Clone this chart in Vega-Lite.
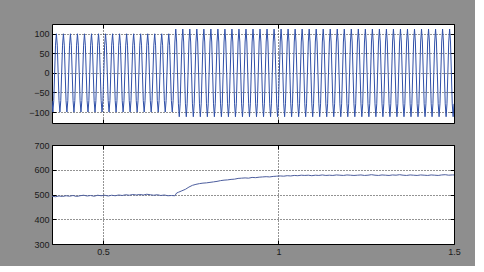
{
"$schema": "https://vega.github.io/schema/vega-lite/v6.json",
"background": "#8e8e8e",
"padding": {"left": 28, "top": 23, "right": 14, "bottom": 9},
"spacing": 22,
"bounds": "flush",
"datasets": {
"sig": [
{"t":0.355,"v":-71},{"t":0.3575,"v":-100},{"t":0.36,"v":-71},{"t":0.3625,"v":0},{"t":0.365,"v":71},{"t":0.3675,"v":100},{"t":0.37,"v":71},{"t":0.3725,"v":0},
{"t":0.375,"v":-71},{"t":0.3775,"v":-100},{"t":0.38,"v":-71},{"t":0.3825,"v":0},{"t":0.385,"v":71},{"t":0.3875,"v":100},{"t":0.39,"v":71},{"t":0.3925,"v":0},
{"t":0.395,"v":-71},{"t":0.3975,"v":-100},{"t":0.4,"v":-71},{"t":0.4025,"v":0},{"t":0.405,"v":71},{"t":0.4075,"v":100},{"t":0.41,"v":71},{"t":0.4125,"v":0},
{"t":0.415,"v":-71},{"t":0.4175,"v":-100},{"t":0.42,"v":-71},{"t":0.4225,"v":0},{"t":0.425,"v":71},{"t":0.4275,"v":100},{"t":0.43,"v":71},{"t":0.4325,"v":0},
{"t":0.435,"v":-71},{"t":0.4375,"v":-100},{"t":0.44,"v":-71},{"t":0.4425,"v":0},{"t":0.445,"v":71},{"t":0.4475,"v":100},{"t":0.45,"v":71},{"t":0.4525,"v":0},
{"t":0.455,"v":-71},{"t":0.4575,"v":-100},{"t":0.46,"v":-71},{"t":0.4625,"v":0},{"t":0.465,"v":71},{"t":0.4675,"v":100},{"t":0.47,"v":71},{"t":0.4725,"v":0},
{"t":0.475,"v":-71},{"t":0.4775,"v":-100},{"t":0.48,"v":-71},{"t":0.4825,"v":0},{"t":0.485,"v":71},{"t":0.4875,"v":100},{"t":0.49,"v":71},{"t":0.4925,"v":0},
{"t":0.495,"v":-71},{"t":0.4975,"v":-100},{"t":0.5,"v":-71},{"t":0.5025,"v":0},{"t":0.505,"v":71},{"t":0.5075,"v":100},{"t":0.51,"v":71},{"t":0.5125,"v":0},
{"t":0.515,"v":-71},{"t":0.5175,"v":-100},{"t":0.52,"v":-71},{"t":0.5225,"v":0},{"t":0.525,"v":71},{"t":0.5275,"v":100},{"t":0.53,"v":71},{"t":0.5325,"v":0},
{"t":0.535,"v":-71},{"t":0.5375,"v":-100},{"t":0.54,"v":-71},{"t":0.5425,"v":0},{"t":0.545,"v":71},{"t":0.5475,"v":100},{"t":0.55,"v":71},{"t":0.5525,"v":0},
{"t":0.555,"v":-71},{"t":0.5575,"v":-100},{"t":0.56,"v":-71},{"t":0.5625,"v":0},{"t":0.565,"v":71},{"t":0.5675,"v":100},{"t":0.57,"v":71},{"t":0.5725,"v":0},
{"t":0.575,"v":-71},{"t":0.5775,"v":-100},{"t":0.58,"v":-71},{"t":0.5825,"v":0},{"t":0.585,"v":71},{"t":0.5875,"v":100},{"t":0.59,"v":71},{"t":0.5925,"v":0},
{"t":0.595,"v":-71},{"t":0.5975,"v":-100},{"t":0.6,"v":-71},{"t":0.6025,"v":0},{"t":0.605,"v":71},{"t":0.6075,"v":100},{"t":0.61,"v":71},{"t":0.6125,"v":0},
{"t":0.615,"v":-71},{"t":0.6175,"v":-100},{"t":0.62,"v":-71},{"t":0.6225,"v":0},{"t":0.625,"v":71},{"t":0.6275,"v":100},{"t":0.63,"v":71},{"t":0.6325,"v":0},
{"t":0.635,"v":-71},{"t":0.6375,"v":-100},{"t":0.64,"v":-71},{"t":0.6425,"v":0},{"t":0.645,"v":71},{"t":0.6475,"v":100},{"t":0.65,"v":71},{"t":0.6525,"v":0},
{"t":0.655,"v":-71},{"t":0.6575,"v":-100},{"t":0.66,"v":-71},{"t":0.6625,"v":0},{"t":0.665,"v":71},{"t":0.6675,"v":100},{"t":0.67,"v":71},{"t":0.6725,"v":0},
{"t":0.675,"v":-71},{"t":0.6775,"v":-100},{"t":0.68,"v":-71},{"t":0.6825,"v":0},{"t":0.685,"v":71},{"t":0.6875,"v":100},{"t":0.69,"v":71},{"t":0.6925,"v":0},
{"t":0.695,"v":-71},{"t":0.6975,"v":-100},{"t":0.7,"v":-71},{"t":0.7025,"v":0},{"t":0.705,"v":79},{"t":0.7075,"v":112},{"t":0.71,"v":79},{"t":0.7125,"v":0},
{"t":0.715,"v":-79},{"t":0.7175,"v":-112},{"t":0.72,"v":-79},{"t":0.7225,"v":0},{"t":0.725,"v":79},{"t":0.7275,"v":112},{"t":0.73,"v":79},{"t":0.7325,"v":0},
{"t":0.735,"v":-79},{"t":0.7375,"v":-112},{"t":0.74,"v":-79},{"t":0.7425,"v":0},{"t":0.745,"v":79},{"t":0.7475,"v":112},{"t":0.75,"v":79},{"t":0.7525,"v":0},
{"t":0.755,"v":-79},{"t":0.7575,"v":-112},{"t":0.76,"v":-79},{"t":0.7625,"v":0},{"t":0.765,"v":79},{"t":0.7675,"v":112},{"t":0.77,"v":79},{"t":0.7725,"v":0},
{"t":0.775,"v":-79},{"t":0.7775,"v":-112},{"t":0.78,"v":-79},{"t":0.7825,"v":0},{"t":0.785,"v":79},{"t":0.7875,"v":112},{"t":0.79,"v":79},{"t":0.7925,"v":0},
{"t":0.795,"v":-79},{"t":0.7975,"v":-112},{"t":0.8,"v":-79},{"t":0.8025,"v":0},{"t":0.805,"v":79},{"t":0.8075,"v":112},{"t":0.81,"v":79},{"t":0.8125,"v":0},
{"t":0.815,"v":-79},{"t":0.8175,"v":-112},{"t":0.82,"v":-79},{"t":0.8225,"v":0},{"t":0.825,"v":79},{"t":0.8275,"v":112},{"t":0.83,"v":79},{"t":0.8325,"v":0},
{"t":0.835,"v":-79},{"t":0.8375,"v":-112},{"t":0.84,"v":-79},{"t":0.8425,"v":0},{"t":0.845,"v":79},{"t":0.8475,"v":112},{"t":0.85,"v":79},{"t":0.8525,"v":0},
{"t":0.855,"v":-79},{"t":0.8575,"v":-112},{"t":0.86,"v":-79},{"t":0.8625,"v":0},{"t":0.865,"v":79},{"t":0.8675,"v":112},{"t":0.87,"v":79},{"t":0.8725,"v":0},
{"t":0.875,"v":-79},{"t":0.8775,"v":-112},{"t":0.88,"v":-79},{"t":0.8825,"v":0},{"t":0.885,"v":79},{"t":0.8875,"v":112},{"t":0.89,"v":79},{"t":0.8925,"v":0},
{"t":0.895,"v":-79},{"t":0.8975,"v":-112},{"t":0.9,"v":-79},{"t":0.9025,"v":0},{"t":0.905,"v":79},{"t":0.9075,"v":112},{"t":0.91,"v":79},{"t":0.9125,"v":0},
{"t":0.915,"v":-79},{"t":0.9175,"v":-112},{"t":0.92,"v":-79},{"t":0.9225,"v":0},{"t":0.925,"v":79},{"t":0.9275,"v":112},{"t":0.93,"v":79},{"t":0.9325,"v":0},
{"t":0.935,"v":-79},{"t":0.9375,"v":-112},{"t":0.94,"v":-79},{"t":0.9425,"v":0},{"t":0.945,"v":79},{"t":0.9475,"v":112},{"t":0.95,"v":79},{"t":0.9525,"v":0},
{"t":0.955,"v":-79},{"t":0.9575,"v":-112},{"t":0.96,"v":-79},{"t":0.9625,"v":0},{"t":0.965,"v":79},{"t":0.9675,"v":112},{"t":0.97,"v":79},{"t":0.9725,"v":0},
{"t":0.975,"v":-79},{"t":0.9775,"v":-112},{"t":0.98,"v":-79},{"t":0.9825,"v":0},{"t":0.985,"v":79},{"t":0.9875,"v":112},{"t":0.99,"v":79},{"t":0.9925,"v":0},
{"t":0.995,"v":-79},{"t":0.9975,"v":-112},{"t":1.0,"v":-79},{"t":1.0025,"v":0},{"t":1.005,"v":79},{"t":1.0075,"v":112},{"t":1.01,"v":79},{"t":1.0125,"v":0},
{"t":1.015,"v":-79},{"t":1.0175,"v":-112},{"t":1.02,"v":-79},{"t":1.0225,"v":0},{"t":1.025,"v":79},{"t":1.0275,"v":112},{"t":1.03,"v":79},{"t":1.0325,"v":0},
{"t":1.035,"v":-79},{"t":1.0375,"v":-112},{"t":1.04,"v":-79},{"t":1.0425,"v":0},{"t":1.045,"v":79},{"t":1.0475,"v":112},{"t":1.05,"v":79},{"t":1.0525,"v":0},
{"t":1.055,"v":-79},{"t":1.0575,"v":-112},{"t":1.06,"v":-79},{"t":1.0625,"v":0},{"t":1.065,"v":79},{"t":1.0675,"v":112},{"t":1.07,"v":79},{"t":1.0725,"v":0},
{"t":1.075,"v":-79},{"t":1.0775,"v":-112},{"t":1.08,"v":-79},{"t":1.0825,"v":0},{"t":1.085,"v":79},{"t":1.0875,"v":112},{"t":1.09,"v":79},{"t":1.0925,"v":0},
{"t":1.095,"v":-79},{"t":1.0975,"v":-112},{"t":1.1,"v":-79},{"t":1.1025,"v":0},{"t":1.105,"v":79},{"t":1.1075,"v":112},{"t":1.11,"v":79},{"t":1.1125,"v":0},
{"t":1.115,"v":-79},{"t":1.1175,"v":-112},{"t":1.12,"v":-79},{"t":1.1225,"v":0},{"t":1.125,"v":79},{"t":1.1275,"v":112},{"t":1.13,"v":79},{"t":1.1325,"v":0},
{"t":1.135,"v":-79},{"t":1.1375,"v":-112},{"t":1.14,"v":-79},{"t":1.1425,"v":0},{"t":1.145,"v":79},{"t":1.1475,"v":112},{"t":1.15,"v":79},{"t":1.1525,"v":0},
{"t":1.155,"v":-79},{"t":1.1575,"v":-112},{"t":1.16,"v":-79},{"t":1.1625,"v":0},{"t":1.165,"v":79},{"t":1.1675,"v":112},{"t":1.17,"v":79},{"t":1.1725,"v":0},
{"t":1.175,"v":-79},{"t":1.1775,"v":-112},{"t":1.18,"v":-79},{"t":1.1825,"v":0},{"t":1.185,"v":79},{"t":1.1875,"v":112},{"t":1.19,"v":79},{"t":1.1925,"v":0},
{"t":1.195,"v":-79},{"t":1.1975,"v":-112},{"t":1.2,"v":-79},{"t":1.2025,"v":0},{"t":1.205,"v":79},{"t":1.2075,"v":112},{"t":1.21,"v":79},{"t":1.2125,"v":0},
{"t":1.215,"v":-79},{"t":1.2175,"v":-112},{"t":1.22,"v":-79},{"t":1.2225,"v":0},{"t":1.225,"v":79},{"t":1.2275,"v":112},{"t":1.23,"v":79},{"t":1.2325,"v":0},
{"t":1.235,"v":-79},{"t":1.2375,"v":-112},{"t":1.24,"v":-79},{"t":1.2425,"v":0},{"t":1.245,"v":79},{"t":1.2475,"v":112},{"t":1.25,"v":79},{"t":1.2525,"v":0},
{"t":1.255,"v":-79},{"t":1.2575,"v":-112},{"t":1.26,"v":-79},{"t":1.2625,"v":0},{"t":1.265,"v":79},{"t":1.2675,"v":112},{"t":1.27,"v":79},{"t":1.2725,"v":0},
{"t":1.275,"v":-79},{"t":1.2775,"v":-112},{"t":1.28,"v":-79},{"t":1.2825,"v":0},{"t":1.285,"v":79},{"t":1.2875,"v":112},{"t":1.29,"v":79},{"t":1.2925,"v":0},
{"t":1.295,"v":-79},{"t":1.2975,"v":-112},{"t":1.3,"v":-79},{"t":1.3025,"v":0},{"t":1.305,"v":79},{"t":1.3075,"v":112},{"t":1.31,"v":79},{"t":1.3125,"v":0},
{"t":1.315,"v":-79},{"t":1.3175,"v":-112},{"t":1.32,"v":-79},{"t":1.3225,"v":0},{"t":1.325,"v":79},{"t":1.3275,"v":112},{"t":1.33,"v":79},{"t":1.3325,"v":0},
{"t":1.335,"v":-79},{"t":1.3375,"v":-112},{"t":1.34,"v":-79},{"t":1.3425,"v":0},{"t":1.345,"v":79},{"t":1.3475,"v":112},{"t":1.35,"v":79},{"t":1.3525,"v":0},
{"t":1.355,"v":-79},{"t":1.3575,"v":-112},{"t":1.36,"v":-79},{"t":1.3625,"v":0},{"t":1.365,"v":79},{"t":1.3675,"v":112},{"t":1.37,"v":79},{"t":1.3725,"v":0},
{"t":1.375,"v":-79},{"t":1.3775,"v":-112},{"t":1.38,"v":-79},{"t":1.3825,"v":0},{"t":1.385,"v":79},{"t":1.3875,"v":112},{"t":1.39,"v":79},{"t":1.3925,"v":0},
{"t":1.395,"v":-79},{"t":1.3975,"v":-112},{"t":1.4,"v":-79},{"t":1.4025,"v":0},{"t":1.405,"v":79},{"t":1.4075,"v":112},{"t":1.41,"v":79},{"t":1.4125,"v":0},
{"t":1.415,"v":-79},{"t":1.4175,"v":-112},{"t":1.42,"v":-79},{"t":1.4225,"v":0},{"t":1.425,"v":79},{"t":1.4275,"v":112},{"t":1.43,"v":79},{"t":1.4325,"v":0},
{"t":1.435,"v":-79},{"t":1.4375,"v":-112},{"t":1.44,"v":-79},{"t":1.4425,"v":0},{"t":1.445,"v":79},{"t":1.4475,"v":112},{"t":1.45,"v":79},{"t":1.4525,"v":0},
{"t":1.455,"v":-79},{"t":1.4575,"v":-112},{"t":1.46,"v":-79},{"t":1.4625,"v":0},{"t":1.465,"v":79},{"t":1.4675,"v":112},{"t":1.47,"v":79},{"t":1.4725,"v":0},
{"t":1.475,"v":-79},{"t":1.4775,"v":-112},{"t":1.48,"v":-79},{"t":1.4825,"v":0},{"t":1.485,"v":79},{"t":1.4875,"v":112},{"t":1.49,"v":79},{"t":1.4925,"v":0},
{"t":1.495,"v":-79},{"t":1.4975,"v":-112},{"t":1.5,"v":-79}
],
"spd": [
{"t":0.355,"v":493},{"t":0.365,"v":491},{"t":0.375,"v":494},{"t":0.385,"v":492},{"t":0.395,"v":495},{"t":0.405,"v":493},{"t":0.415,"v":496},{"t":0.425,"v":492},{"t":0.435,"v":495},{"t":0.445,"v":497},
{"t":0.455,"v":494},{"t":0.465,"v":496},{"t":0.475,"v":493},{"t":0.485,"v":497},{"t":0.495,"v":495},{"t":0.505,"v":497},{"t":0.515,"v":494},{"t":0.525,"v":497},{"t":0.535,"v":495},{"t":0.545,"v":498},
{"t":0.555,"v":496},{"t":0.565,"v":499},{"t":0.575,"v":497},{"t":0.585,"v":500},{"t":0.595,"v":498},{"t":0.605,"v":500},{"t":0.615,"v":498},{"t":0.625,"v":501},{"t":0.635,"v":499},{"t":0.645,"v":497},
{"t":0.655,"v":499},{"t":0.665,"v":496},{"t":0.675,"v":498},{"t":0.685,"v":495},{"t":0.695,"v":496},{"t":0.705,"v":495},{"t":0.71,"v":506},{"t":0.715,"v":509},{"t":0.725,"v":515},{"t":0.735,"v":521},
{"t":0.745,"v":530},{"t":0.755,"v":537},{"t":0.765,"v":541},{"t":0.775,"v":544},{"t":0.785,"v":546},{"t":0.795,"v":547},{"t":0.805,"v":549},{"t":0.815,"v":551},{"t":0.825,"v":553},{"t":0.835,"v":556},
{"t":0.845,"v":558},{"t":0.855,"v":559},{"t":0.865,"v":561},{"t":0.875,"v":562},{"t":0.885,"v":565},{"t":0.895,"v":566},{"t":0.905,"v":567},{"t":0.915,"v":566},{"t":0.925,"v":569},{"t":0.935,"v":568},
{"t":0.945,"v":570},{"t":0.955,"v":571},{"t":0.965,"v":572},{"t":0.975,"v":571},{"t":0.985,"v":573},{"t":0.995,"v":574},{"t":1.005,"v":575},{"t":1.015,"v":574},{"t":1.025,"v":576},{"t":1.035,"v":575},
{"t":1.045,"v":577},{"t":1.055,"v":576},{"t":1.065,"v":578},{"t":1.075,"v":577},{"t":1.085,"v":578},{"t":1.095,"v":576},{"t":1.105,"v":578},{"t":1.115,"v":577},{"t":1.125,"v":579},{"t":1.135,"v":577},
{"t":1.145,"v":578},{"t":1.155,"v":577},{"t":1.165,"v":579},{"t":1.175,"v":578},{"t":1.185,"v":577},{"t":1.195,"v":579},{"t":1.205,"v":578},{"t":1.215,"v":577},{"t":1.225,"v":578},{"t":1.235,"v":579},
{"t":1.245,"v":577},{"t":1.255,"v":578},{"t":1.265,"v":580},{"t":1.275,"v":578},{"t":1.285,"v":577},{"t":1.295,"v":579},{"t":1.305,"v":578},{"t":1.315,"v":577},{"t":1.325,"v":579},{"t":1.335,"v":578},
{"t":1.345,"v":580},{"t":1.355,"v":578},{"t":1.365,"v":577},{"t":1.375,"v":579},{"t":1.385,"v":578},{"t":1.395,"v":577},{"t":1.405,"v":579},{"t":1.415,"v":578},{"t":1.425,"v":577},{"t":1.435,"v":579},
{"t":1.445,"v":578},{"t":1.455,"v":577},{"t":1.465,"v":579},{"t":1.475,"v":580},{"t":1.485,"v":578},{"t":1.495,"v":579},{"t":1.5,"v":579}
]
},
"config": {
"view": {"fill": "white", "stroke": "black", "strokeWidth": 1},
"axis": {"domain": false, "grid": true, "gridColor": "black", "gridDash": [1, 2], "gridOpacity": 0.85, "gridWidth": 1, "tickColor": "black", "tickSize": -4, "labelPadding": 7, "labelFont": "Liberation Sans", "labelFontSize": 9, "labelColor": "#1a1a1a", "labelFlush": false, "labelOverlap": false, "title": null}
},
"vconcat": [
{
"width": 402, "height": 99,
"data": {"name": "sig"},
"layer": [
{"mark": {"type": "line", "color": "#3050a8", "strokeWidth": 1, "clip": true},
"encoding": {
"x": {"field": "t", "type": "quantitative", "scale": {"domain": [0.355, 1.5], "nice": false, "zero": false}, "axis": {"values": [0.5, 1, 1.5], "labels": false}},
"y": {"field": "v", "type": "quantitative", "scale": {"domain": [-128, 125], "nice": false, "zero": false}, "axis": {"values": [-100, -50, 0, 50, 100]}}
}},
{"mark": {"type": "line", "opacity": 0},
"encoding": {
"x": {"field": "t", "type": "quantitative", "axis": {"orient": "top", "values": [0.5, 1, 1.5], "labels": false, "grid": false}},
"y": {"field": "v", "type": "quantitative", "axis": {"orient": "right", "values": [-100, -50, 0, 50, 100], "labels": false, "grid": false}}
}}
],
"resolve": {"axis": {"x": "independent", "y": "independent"}}
},
{
"width": 402, "height": 99,
"data": {"name": "spd"},
"layer": [
{"mark": {"type": "line", "color": "#4d5e9e", "strokeWidth": 1, "clip": true},
"encoding": {
"x": {"field": "t", "type": "quantitative", "scale": {"domain": [0.355, 1.5], "nice": false, "zero": false}, "axis": {"values": [0.5, 1, 1.5], "format": "~g"}},
"y": {"field": "v", "type": "quantitative", "scale": {"domain": [300, 700], "nice": false, "zero": false}, "axis": {"values": [300, 400, 500, 600, 700]}}
}},
{"mark": {"type": "line", "opacity": 0},
"encoding": {
"x": {"field": "t", "type": "quantitative", "axis": {"orient": "top", "values": [0.5, 1, 1.5], "labels": false, "grid": false}},
"y": {"field": "v", "type": "quantitative", "axis": {"orient": "right", "values": [300, 400, 500, 600, 700], "labels": false, "grid": false}}
}}
],
"resolve": {"axis": {"x": "independent", "y": "independent"}}
}
]
}
